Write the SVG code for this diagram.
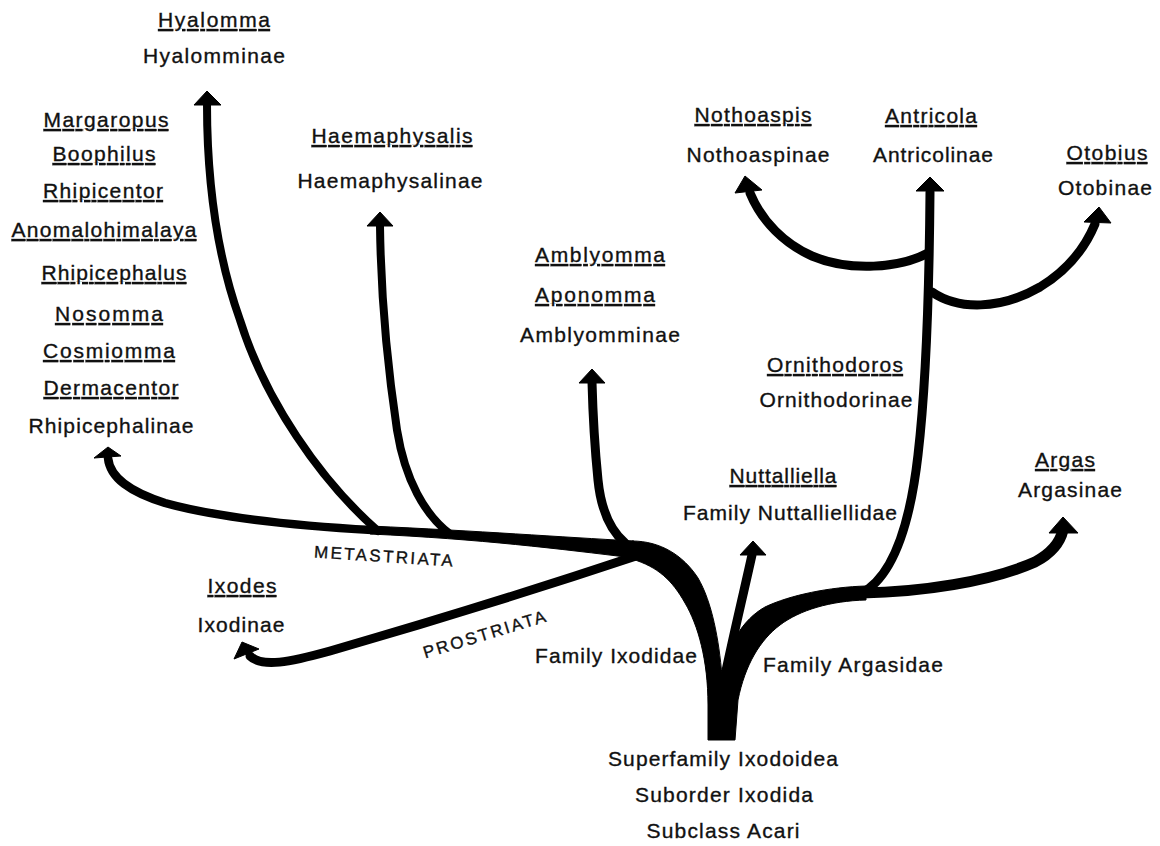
<svg xmlns="http://www.w3.org/2000/svg" width="1160" height="846" viewBox="0 0 1160 846">
<style>
  text { font-family: "Liberation Sans", Arial, sans-serif; font-size: 21px; fill: #111; stroke: #111; stroke-width: 0.35; text-anchor: middle; }
  .u { text-decoration: underline; }
  .sm { font-size: 17px; }
  .br { fill: none; stroke: #000; stroke-linecap: round; stroke-linejoin: round; }
  .fill { fill: #000; stroke: #000; stroke-width: 1; stroke-linejoin: round; }
  .head { fill: #000; stroke: #000; stroke-width: 1; stroke-linejoin: round; }
</style>
<rect width="1160" height="846" fill="#fff"/>

<g id="connectors">
  <!-- trunk with Ixodidae and Argasidae branches -->
  <path class="fill" d="M708,740 L708,705 C708,660 698,625 685,603 C672,580 658,567 632,559 L632,541 C660,541 683,555 698,578 C712,602 719,640 722,676 C728,645 742,620 765,607 C790,595 830,587 866,586 L866,600 C830,601 800,610 780,625 C760,640 745,665 738,700 L735,740 Z"/>
  <!-- Metastriata -->
  <path class="fill" d="M634,541 C560,537 480,531 370,526 L370,534 C480,539 560,549 634,558 Z"/>
  <!-- Rhipicephalinae -->
  <path class="br" d="M372,530 C300,526 220,518 165,503 C130,492 110,478 108,458" stroke-width="8.5"/>
  <polygon class="head" points="108,447 94,458 121,456"/>
  <!-- Hyalomma -->
  <path class="br" d="M378,531 C320,480 265,400 240,320 C215,250 207,170 207,104" stroke-width="8"/>
  <polygon class="head" points="207,91 194,105 221,105"/>
  <!-- Haemaphysalis -->
  <path class="br" d="M450,534 C425,515 405,480 397,430 C388,370 381,300 380,226" stroke-width="8"/>
  <polygon class="head" points="380,212 367,226 393,226"/>
  <!-- Amblyomma -->
  <path class="br" d="M625,543 C610,530 601,510 598,480 C595,450 593,420 592,382" stroke-width="9"/>
  <polygon class="head" points="592,369 579,383 605,383"/>
  <!-- Prostriata -->
  <path class="br" d="M636,556 C540,588 420,625 330,651 C290,662 262,668 250,656" stroke-width="9"/>
  <polygon class="head" points="242,642 234,659 259,649"/>
  <!-- Nuttalliella -->
  <path class="br" d="M722,690 C730,650 742,600 752,555" stroke-width="9"/>
  <polygon class="head" points="753,541 740,555 766,555"/>
  <!-- Argas -->
  <path class="br" d="M862,593 C920,592 990,582 1035,562 C1052,553 1060,543 1063,530" stroke-width="11"/>
  <polygon class="head" points="1063,517 1049,533 1078,533"/>
  <!-- Ornithodoros / Antricola -->
  <path class="br" d="M860,594 C893,578 910,525 918,455 C925,395 929,320 930,192" stroke-width="9"/>
  <polygon class="head" points="930,177 916,191 944,191"/>
  <!-- Nothoaspinae -->
  <path class="br" d="M928,253 C900,268 850,272 812,256 C785,244 762,222 750,193" stroke-width="9"/>
  <polygon class="head" points="745,176 735,193 762,190"/>
  <!-- Otobinae -->
  <path class="br" d="M932,292 C958,310 1000,310 1040,287 C1068,270 1085,248 1095,224" stroke-width="9"/>
  <polygon class="head" points="1099,207 1084,222 1111,223"/>
</g>

<g id="hyalominae">
  <text class="u" x="214" y="27" textLength="112">Hyalomma</text>
  <text x="214" y="63" textLength="142">Hyalomminae</text>
</g>
<g id="rhipicephalinae">
  <text class="u" x="106" y="127" textLength="125">Margaropus</text>
  <text class="u" x="104" y="161" textLength="103">Boophilus</text>
  <text class="u" x="103" y="198" textLength="120">Rhipicentor</text>
  <text class="u" x="104" y="237" textLength="185">Anomalohimalaya</text>
  <text class="u" x="114" y="280" textLength="145">Rhipicephalus</text>
  <text class="u" x="109" y="321" textLength="108">Nosomma</text>
  <text class="u" x="109" y="358" textLength="132">Cosmiomma</text>
  <text class="u" x="111" y="395" textLength="135">Dermacentor</text>
  <text x="111" y="433" textLength="165">Rhipicephalinae</text>
</g>
<g id="haemaphysalinae">
  <text class="u" x="392" y="143" textLength="161">Haemaphysalis</text>
  <text x="390" y="188" textLength="185">Haemaphysalinae</text>
</g>
<g id="amblyomminae">
  <text class="u" x="600" y="262" textLength="130">Amblyomma</text>
  <text class="u" x="595" y="302" textLength="120">Aponomma</text>
  <text x="600" y="342" textLength="160">Amblyomminae</text>
</g>
<g id="nothoaspinae">
  <text class="u" x="753" y="122" textLength="117">Nothoaspis</text>
  <text x="758" y="162" textLength="143">Nothoaspinae</text>
</g>
<g id="antricolinae">
  <text class="u" x="931" y="123" textLength="92">Antricola</text>
  <text x="933" y="162" textLength="120">Antricolinae</text>
</g>
<g id="otobinae">
  <text class="u" x="1107" y="160" textLength="81">Otobius</text>
  <text x="1105" y="195" textLength="94">Otobinae</text>
</g>
<g id="ornithodorinae">
  <text class="u" x="835" y="372" textLength="136">Ornithodoros</text>
  <text x="836" y="407" textLength="153">Ornithodorinae</text>
</g>
<g id="argasinae">
  <text class="u" x="1065" y="467" textLength="60">Argas</text>
  <text x="1070" y="497" textLength="104">Argasinae</text>
</g>
<g id="nuttalliellidae">
  <text class="u" x="783" y="483" textLength="107">Nuttalliella</text>
  <text x="790" y="520" textLength="214">Family Nuttalliellidae</text>
</g>
<g id="ixodinae">
  <text class="u" x="242" y="593" textLength="69">Ixodes</text>
  <text x="241" y="632" textLength="87">Ixodinae</text>
</g>
<g id="metastriata">
  <text class="sm" transform="translate(383,562) rotate(3.7)" x="0" y="0" textLength="139">METASTRIATA</text>
</g>
<g id="prostriata">
  <text class="sm" transform="translate(486,640) rotate(-17)" x="0" y="0" textLength="127">PROSTRIATA</text>
</g>
<g id="ixodidae">
  <text x="616" y="663" textLength="162">Family Ixodidae</text>
</g>
<g id="argasidae">
  <text x="853" y="672" textLength="180">Family Argasidae</text>
</g>
<g id="root">
  <text x="723" y="766" textLength="230">Superfamily Ixodoidea</text>
  <text x="724" y="802" textLength="178">Suborder Ixodida</text>
  <text x="723" y="838" textLength="153">Subclass Acari</text>
</g>
</svg>
